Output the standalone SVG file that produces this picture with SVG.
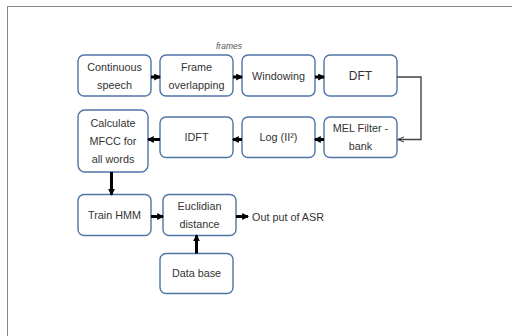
<svg xmlns="http://www.w3.org/2000/svg" width="512" height="336" viewBox="0 0 512 336">
<defs>
<style>
.box{fill:#fff;stroke:#4f74a6;stroke-width:1.4}
.t{font-family:"Liberation Sans",Arial,sans-serif;font-size:10.8px;fill:#333;text-anchor:middle}
.a{stroke:#000;stroke-width:3;fill:none}
.thin{stroke:#444;stroke-width:1.4;fill:none}
</style>
<marker id="ah" viewBox="0 0 6 6" refX="5" refY="3" markerWidth="7" markerHeight="7" markerUnits="userSpaceOnUse" orient="auto"><path d="M0,0 L6,3 L0,6 z" fill="#000"/></marker>
<marker id="ht" viewBox="0 0 8 8" refX="7" refY="4" markerWidth="7" markerHeight="7" markerUnits="userSpaceOnUse" orient="auto"><path d="M0,1 L7,4 L0,7" fill="none" stroke="#444" stroke-width="1.2"/></marker>
</defs>
<rect x="7.5" y="6.5" width="510" height="335" fill="#fff" stroke="#888" stroke-width="1"/>
<text x="229" y="49" style="font-family:'Liberation Sans',Arial,sans-serif;font-size:8.5px;font-style:italic;fill:#555;text-anchor:middle">frames</text>
<g id="n-continuous"><rect class="box" x="78" y="55" width="73" height="41" rx="6"/><text class="t" x="114.5" y="70.5">Continuous</text><text class="t" x="114.5" y="88.5">speech</text></g>
<g id="n-frame"><rect class="box" x="160" y="55" width="73" height="41" rx="6"/><text class="t" x="196.5" y="70.5">Frame</text><text class="t" x="196.5" y="88.5">overlapping</text></g>
<g id="n-windowing"><rect class="box" x="242" y="55" width="73" height="41" rx="6"/><text class="t" x="278.5" y="79.5">Windowing</text></g>
<g id="n-dft"><rect class="box" x="324" y="55" width="73" height="41" rx="6"/><text class="t" x="360.5" y="80" style="font-size:12px">DFT</text></g>
<g id="n-mfcc"><rect class="box" x="78" y="110" width="70" height="62" rx="7"/><text class="t" x="113" y="127">Calculate</text><text class="t" x="113" y="145">MFCC  for</text><text class="t" x="113" y="163">all words</text></g>
<g id="n-idft"><rect class="box" x="160" y="117" width="73" height="40.5" rx="6"/><text class="t" x="196.5" y="141">IDFT</text></g>
<g id="n-log"><rect class="box" x="242" y="117" width="73" height="40.5" rx="6"/><text class="t" x="278.5" y="141">Log (II²)</text></g>
<g id="n-mel"><rect class="box" x="324" y="117" width="73" height="40.5" rx="6"/><text class="t" x="360.5" y="132">MEL Filter -</text><text class="t" x="360.5" y="150">bank</text></g>
<g id="n-hmm"><rect class="box" x="78" y="194.5" width="73" height="41" rx="6"/><text class="t" x="114.5" y="218.5">Train HMM</text></g>
<g id="n-euclid"><rect class="box" x="163" y="194.5" width="73" height="41" rx="6"/><text class="t" x="199.5" y="210">Euclidian</text><text class="t" x="199.5" y="228">distance</text></g>
<g id="n-db"><rect class="box" x="160" y="253.5" width="73" height="40" rx="6"/><text class="t" x="196.5" y="277">Data base</text></g>
<text x="252" y="220.5" style="font-family:'Liberation Sans',Arial,sans-serif;font-size:10.8px;fill:#333">Out put of ASR</text>
<g id="connectors">
<path class="a" d="M151,77 H160" marker-end="url(#ah)"/>
<path class="a" d="M233,77 H242" marker-end="url(#ah)"/>
<path class="a" d="M315,77 H324" marker-end="url(#ah)"/>
<path class="thin" d="M397,77 H421 V139.5 H398" marker-end="url(#ht)"/>
<path class="a" d="M324,139.5 H315" marker-end="url(#ah)"/>
<path class="a" d="M242,139.5 H233" marker-end="url(#ah)"/>
<path class="a" d="M160,139.5 H148" marker-end="url(#ah)"/>
<path class="a" d="M111.5,172 V194.5" marker-end="url(#ah)"/>
<path class="a" d="M151,216.5 H163" marker-end="url(#ah)"/>
<path class="a" d="M236,216.5 H248" marker-end="url(#ah)"/>
<path class="a" d="M196.5,253.5 V235.5" marker-end="url(#ah)"/>
</g>
</svg>
